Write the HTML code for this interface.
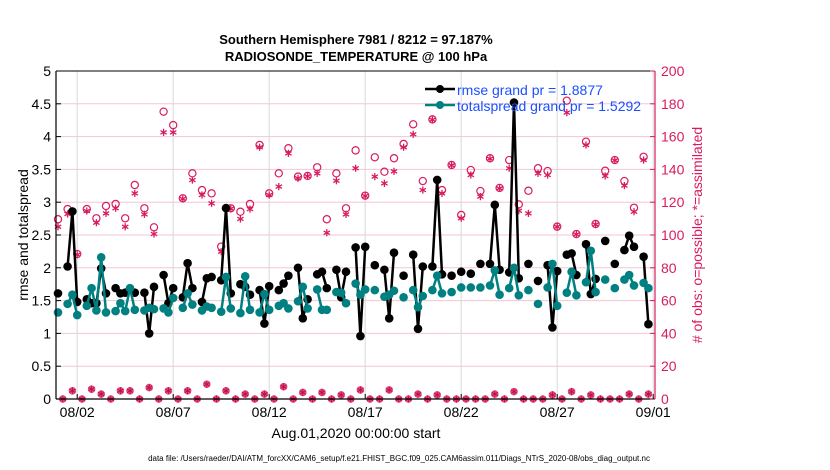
<!DOCTYPE html>
<html><head><meta charset="utf-8"><style>
html,body{margin:0;padding:0;background:#fff;}
svg{display:block;font-family:"Liberation Sans",sans-serif;}
</style></head><body>
<svg id="chart" width="830" height="470" viewBox="0 0 830 470" xmlns="http://www.w3.org/2000/svg">
<text x="356" y="44" text-anchor="middle" font-size="13" font-weight="bold">Southern Hemisphere 7981 / 8212 = 97.187%</text>
<text x="356" y="61" text-anchor="middle" font-size="13" font-weight="bold">RADIOSONDE_TEMPERATURE @ 100 hPa</text>
<g id="grid"></g>
<g id="marks"></g>
<g id="axes"></g>
<text transform="translate(28,235) rotate(-90)" text-anchor="middle" font-size="14">rmse and totalspread</text>
<text transform="translate(702,235) rotate(-90)" text-anchor="middle" font-size="14" fill="#d81b60">#  of obs: o=possible; *=assimilated</text>
<text x="356" y="438" text-anchor="middle" font-size="14">Aug.01,2020 00:00:00 start</text>
<text x="399" y="461" text-anchor="middle" font-size="8">data file: /Users/raeder/DAI/ATM_forcXX/CAM6_setup/f.e21.FHIST_BGC.f09_025.CAM6assim.011/Diags_NTrS_2020-08/obs_diag_output.nc</text>
<g id="legend">
<line x1="425" y1="89" x2="455" y2="89" stroke="#000" stroke-width="2.5"/><circle cx="440" cy="89" r="4" fill="#000"/>
<text x="457" y="95" font-size="14" fill="#1a4fff">rmse grand pr = 1.8877</text>
<line x1="425" y1="105" x2="455" y2="105" stroke="#008080" stroke-width="2.5"/><circle cx="440" cy="105" r="4" fill="#008080"/>
<text x="457" y="111" font-size="14" fill="#1a4fff">totalspread grand pr = 1.5292</text>
</g>
</svg>
<script>
// 6-hourly slots starting Aug 01 00:00
const slotDays = 0.25;
const rmse = [1.61,null,2.02,2.86,1.48,null,1.52,1.46,1.46,1.99,1.61,null,1.69,1.61,1.62,1.67,1.62,null,1.62,1.0,1.71,null,1.89,1.46,1.69,null,1.55,2.07,1.69,null,1.48,1.84,1.86,null,1.81,2.91,1.61,null,1.75,1.71,1.59,null,1.66,1.15,1.72,null,1.66,1.76,1.88,null,2.0,1.23,1.52,null,1.9,1.94,1.69,null,1.97,1.55,1.94,null,2.31,0.96,2.32,null,2.04,null,1.97,1.23,2.23,null,1.88,null,2.2,1.07,2.02,null,2.02,3.34,1.9,null,1.88,null,1.94,null,1.91,null,2.06,null,2.06,2.96,1.97,null,1.93,4.52,1.84,null,2.06,null,1.8,null,2.04,1.09,1.95,null,2.2,2.22,1.89,null,2.36,1.6,1.83,null,2.41,null,2.06,null,2.27,2.49,2.32,null,2.17,1.14];
const spread = [1.32,null,1.45,1.59,1.28,null,1.42,1.69,1.35,2.16,1.32,null,1.34,1.46,1.34,1.69,1.36,null,1.35,1.39,1.37,null,1.38,1.32,1.54,null,1.39,1.61,1.44,null,1.35,1.41,1.39,null,1.33,1.86,1.38,null,1.31,1.87,1.36,null,1.32,1.6,1.36,null,1.42,1.46,1.38,null,1.49,1.71,1.38,null,1.67,1.36,1.36,null,1.63,1.62,1.46,null,1.76,1.59,1.67,null,1.66,null,1.56,1.59,1.65,null,1.55,null,1.66,1.4,1.57,null,1.66,1.88,1.61,null,1.63,null,1.7,null,1.7,null,1.7,null,1.73,1.96,1.59,null,1.69,2.0,1.58,null,1.66,null,1.45,null,1.7,2.06,1.42,null,1.62,1.94,1.58,null,1.78,2.26,1.63,null,1.82,null,1.69,null,1.82,1.89,1.73,null,1.77,1.69];
// obs counts at 00Z/12Z slots (even) and 06Z/18Z slots (odd)
const possibleEven = [109.6,115.8,88.4,115.8,110.2,117.7,118.9,110.2,130.5,116.3,104.7,175.2,167,122.4,137.6,127.4,125.4,92.9,116.3,114.2,118.9,154.9,125.4,137.6,152.9,135.6,136,141.3,109.6,137.6,116.3,151.6,124,147.4,138.6,146.8,155.5,167.5,132.9,170.5,127.4,142.7,112.2,139.6,126.8,146.8,128.7,145.7,118.7,127,140.7,139,105.1,181.9,100.6,156.9,106.7,139.2,145.7,132.9,116.6,147.7];
const usedEven = [105,112.8,88,114.6,107.5,113.2,116.3,105,125.4,112.6,100.6,162.6,162.6,122,133.5,124.4,119.3,89.8,116,109.8,115.8,153.5,124.4,129.5,149.8,134.6,135.8,137.6,101.4,133.1,112.6,140.7,123.8,135.6,131.5,138.8,153.5,161.4,127.4,170.3,125.4,142.5,110.2,136.6,123.4,146.5,128.4,140.7,114.8,113.2,137.6,136.6,105,174.6,100.4,154.9,106.4,136,145.5,130.1,114.2,145.7];
const countOdd = [0,5,0,6,3,0,5,5,0,7,0,5,0,5,0,9,0,5,0,3,0,3,0,7.5,0,4,0,4,0,2.5,0,5.5,0,0,5.5,0,0,3,0,2.5,0,0,0,0,0,3,0,4.5,0,0,0,2.5,0,4.5,0,2.5,0,0,0,3,0,3];
const leftTicks = [0,0.5,1,1.5,2,2.5,3,3.5,4,4.5,5];
const rightTicks = [0,20,40,60,80,100,120,140,160,180,200];
const dateTicks = [1,6,11,16,21,26,31];
const dateLabels = ["08/02","08/07","08/12","08/17","08/22","08/27","09/01"];

const NS="http://www.w3.org/2000/svg";
const L=56,R=655,T=71,B=399;
const xDay=d=>58+d*19.2;
const yL=v=>B-(v/5)*(B-T);
const yR=v=>B-(v/200)*(B-T);
const PINK="#d81b60";
function mk(tag,attrs,parent){const e=document.createElementNS(NS,tag);for(const k in attrs)e.setAttribute(k,attrs[k]);parent.appendChild(e);return e;}
const grid=document.getElementById('grid'),marks=document.getElementById('marks'),axes=document.getElementById('axes');

rightTicks.forEach(v=>{const g=mk('line',{x1:L,x2:R,y1:yR(v),y2:yR(v),stroke:'#f3c6d6','stroke-width':1},grid);

});
dateTicks.forEach(d=>{const g=mk('line',{x1:xDay(d),x2:xDay(d),y1:T,y2:B,stroke:'#d8d8d8','stroke-width':1},grid);

});

function series(vals,color,name){
  let seg=[];
  const flush=()=>{if(seg.length>1){const p=mk('polyline',{points:seg.join(' '),fill:'none',stroke:color,'stroke-width':2.5,'stroke-linejoin':'round'},marks);
    
    }seg=[];};
  vals.forEach((v,i)=>{if(v===null){flush();return;}seg.push(xDay(i*slotDays)+','+yL(v));});flush();
  vals.forEach((v,i)=>{if(v===null)return;const c=mk('circle',{cx:xDay(i*slotDays),cy:yL(v),r:4.3,fill:color},marks);
    
    });
}
function star(x,y,parent,col,w){const s=3.6;const g=mk('g',{stroke:col||PINK,'stroke-width':w||1.3},parent);
  mk('line',{x1:x,y1:y-s,x2:x,y2:y+s},g);
  mk('line',{x1:x-s*0.87,y1:y-s/2,x2:x+s*0.87,y2:y+s/2},g);
  mk('line',{x1:x-s*0.87,y1:y+s/2,x2:x+s*0.87,y2:y-s/2},g);
  
  }
function obs(i,pos,used){const x=xDay(i*slotDays);
  if(pos<15){const c=mk('circle',{cx:x,cy:yR(pos),r:3.8,fill:'#e8447c'},marks);
    
    
    star(x,yR(pos),marks,'#b0104a',0.8);return;}
  const c=mk('circle',{cx:x,cy:yR(pos),r:3.6,fill:'none',stroke:PINK,'stroke-width':1.2},marks);
  
  
  star(x,yR(used),marks);}
possibleEven.forEach((p,j)=>obs(2*j,p,usedEven[j]));
countOdd.forEach((c,j)=>obs(2*j+1,c,c));

series(rmse,'#000','rmse');
series(spread,'#008080','totalspread');

// axes
mk('line',{x1:L,y1:T,x2:R,y2:T,stroke:'#000','stroke-width':1},axes);
mk('line',{x1:L,y1:B,x2:R,y2:B,stroke:'#000','stroke-width':1.3},axes);
mk('line',{x1:L,y1:T,x2:L,y2:B,stroke:'#000','stroke-width':1.2},axes);
mk('line',{x1:R,y1:T,x2:R,y2:B,stroke:PINK,'stroke-width':1.2},axes);
leftTicks.forEach(v=>{mk('line',{x1:L,x2:L+5,y1:yL(v),y2:yL(v),stroke:'#000'},axes);
  const t=mk('text',{x:L-5,y:yL(v)+5,'text-anchor':'end','font-size':14},axes);t.textContent=String(v);
  
  });
rightTicks.forEach(v=>{mk('line',{x1:R-5,x2:R,y1:yR(v),y2:yR(v),stroke:PINK},axes);
  const t=mk('text',{x:R+6,y:yR(v)+5,'font-size':14,fill:PINK},axes);t.textContent=String(v);
  
  });
dateTicks.forEach((d,i)=>{mk('line',{x1:xDay(d),x2:xDay(d),y1:B,y2:B-5,stroke:'#000'},axes);
  const t=mk('text',{x:xDay(d),y:B+18,'text-anchor':'middle','font-size':14},axes);t.textContent=dateLabels[i];
  
  });
</script>
</body></html>
